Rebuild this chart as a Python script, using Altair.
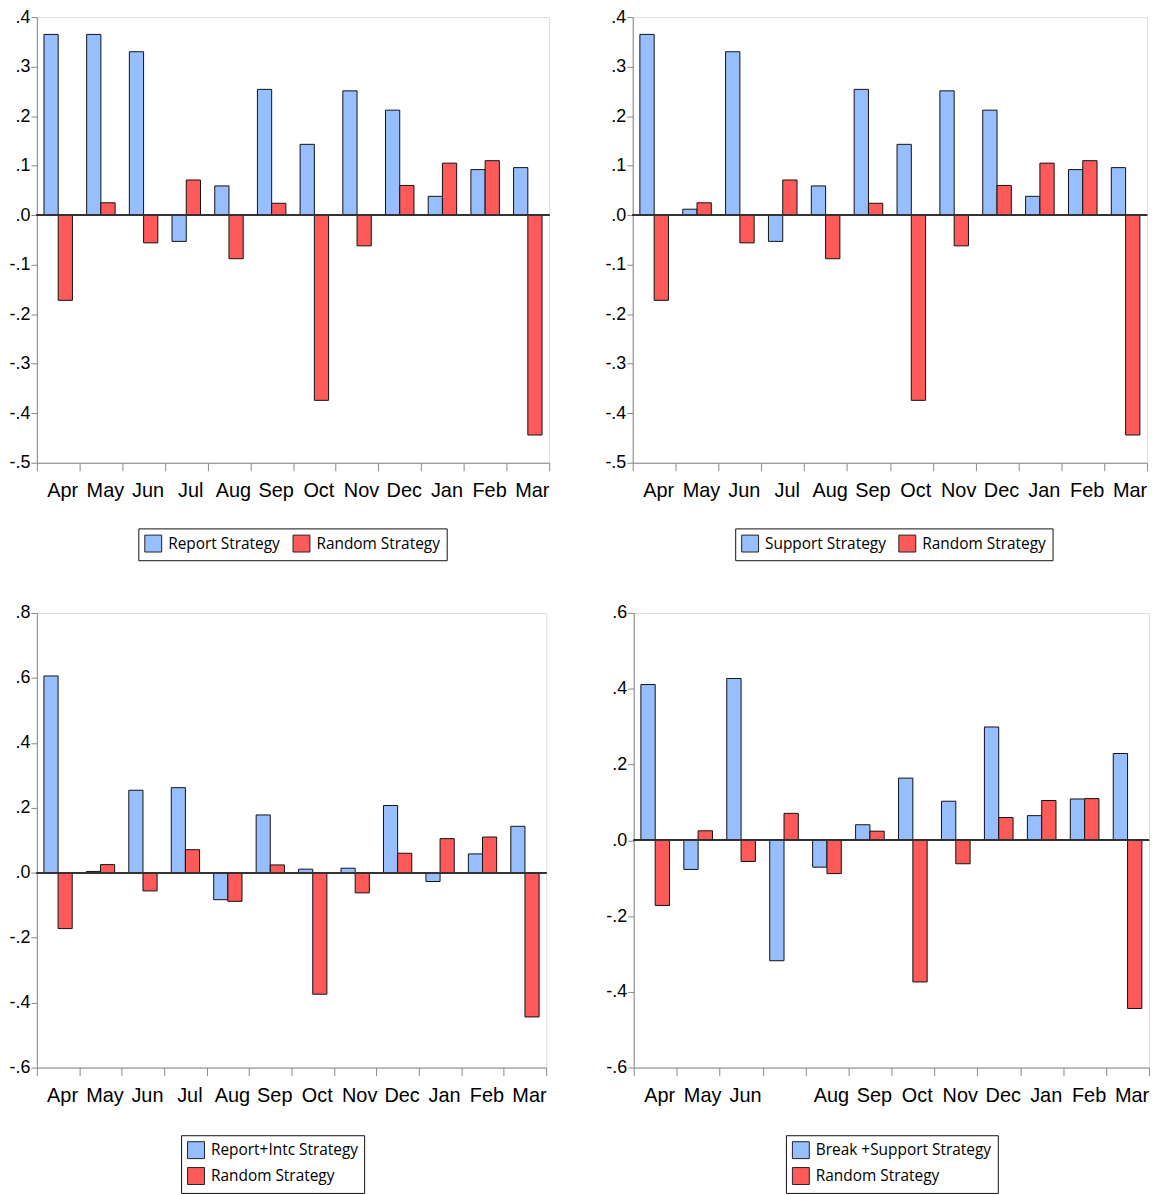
import altair as alt
import pandas as pd

months = ["Apr", "May", "Jun", "Jul", "Aug", "Sep", "Oct", "Nov", "Dec", "Jan", "Feb", "Mar"]

random_strategy = [-0.172, 0.025, -0.056, 0.071, -0.088, 0.024, -0.374, -0.062, 0.060, 0.105, 0.110, -0.444]
report_strategy = [0.365, 0.365, 0.330, -0.053, 0.059, 0.254, 0.143, 0.251, 0.212, 0.038, 0.092, 0.096]
support_strategy = [0.365, 0.012, 0.330, -0.053, 0.059, 0.254, 0.143, 0.251, 0.212, 0.038, 0.092, 0.096]
report_intc_strategy = [0.606, 0.004, 0.254, 0.262, -0.083, 0.178, 0.011, 0.014, 0.207, -0.027, 0.058, 0.143]
break_support_strategy = [0.411, -0.077, 0.427, -0.318, -0.071, 0.041, 0.164, 0.103, 0.299, 0.065, 0.109, 0.229]

names = {
    "report": "Report Strategy",
    "support": "Support Strategy",
    "intc": "Report+Intc Strategy",
    "break": "Break +Support Strategy",
    "random": "Random Strategy",
}

ticks_top = [-0.5, -0.4, -0.3, -0.2, -0.1, 0.0, 0.1, 0.2, 0.3, 0.4]
ticks_bl = [-0.6, -0.4, -0.2, 0.0, 0.2, 0.4, 0.6, 0.8]
ticks_br = [-0.6, -0.4, -0.2, 0.0, 0.2, 0.4, 0.6]

BLUE = "#97bfff"
RED = "#ff5a5a"


def panel(blue_name, blue_vals, w, h, domain, ticks, lx, ly, direction, hide_jul=False):
    rows = []
    for m, b, r in zip(months, blue_vals, random_strategy):
        rows.append({"month": m, "series": blue_name, "value": b})
        rows.append({"month": m, "series": names["random"], "value": r})
    df = pd.DataFrame(rows)
    order = [blue_name, names["random"]]
    label_expr = "datum.label == 'Jul' ? '' : datum.label" if hide_jul else "datum.label"
    half = w / 12 / 6  # half a bar width: bars take a third of each month band

    x_enc = alt.X(
        "month:N",
        sort=months,
        scale=alt.Scale(paddingInner=0, paddingOuter=0),
        axis=alt.Axis(
            title=None,
            labelAngle=0,
            tickBand="extent",
            tickSize=8,
            labelFontSize=20,
            labelPadding=10,
            labelOffset=4,
            labelExpr=label_expr,
            labelOverlap=False,
        ),
    )
    y_enc = alt.Y(
        "value:Q",
        scale=alt.Scale(domain=domain, nice=False, zero=True),
        axis=alt.Axis(
            title=None,
            values=ticks,
            grid=False,
            tickSize=6,
            labelPadding=1,
            labelFontSize=18,
            labelExpr="replace(replace(format(datum.value, '.1f'), '0.', '.'), '\u2212', '-')",
            minExtent=28,
            maxExtent=28,
        ),
    )
    c_enc = alt.Color(
        "series:N",
        sort=order,
        scale=alt.Scale(domain=order, range=[BLUE, RED]),
        legend=alt.Legend(
            title=None,
            orient="none",
            legendX=lx,
            legendY=ly,
            direction=direction,
            strokeColor="#111111",
            padding=6,
            symbolType="square",
            symbolSize=289,
            symbolStrokeColor="#222222",
            symbolStrokeWidth=1,
            symbolOpacity=1,
            labelFont="Open Sans",
            labelFontSize=15.5,
            labelOffset=6,
            labelLimit=400,
            columnPadding=10,
            rowPadding=4,
            columns=1 if direction == "vertical" else 2,
        ),
    )
    base = alt.Chart(df)
    layers = []
    for i, s in enumerate(order):
        layers.append(
            base.transform_filter(alt.datum.series == s)
            .mark_bar(
                stroke="#111111",
                strokeWidth=1,
                opacity=1,
                width=alt.RelativeBandSize(1 / 3),
                xOffset=-half if i == 0 else half,
            )
            .encode(x=x_enc, y=y_enc, color=c_enc)
        )
    zero = base.mark_rule(color="#333333", strokeWidth=1).encode(y=alt.datum(0))
    return alt.layer(*layers, zero).properties(width=w, height=h)


p1 = panel(names["report"], report_strategy, 515, 448, [-0.5, 0.4], ticks_top, 102, 514, "horizontal")
p2 = panel(names["support"], support_strategy, 517, 448, [-0.5, 0.4], ticks_top, 103, 514, "horizontal")
p3 = panel(names["intc"], report_intc_strategy, 512, 457, [-0.6, 0.8], ticks_bl, 145, 525, "vertical")
p4 = panel(names["break"], break_support_strategy, 518, 457, [-0.6, 0.6], ticks_br, 153, 525, "vertical", hide_jul=True)

row1 = alt.hconcat(p1, p2, spacing=84, bounds="flush").resolve_scale(color="independent", x="independent", y="independent")
row2 = alt.hconcat(p3, p4, spacing=88, bounds="flush").resolve_scale(color="independent", x="independent", y="independent")

chart = (
    alt.vconcat(row1, row2, spacing=42)
    .resolve_scale(color="independent", x="independent", y="independent")
    .properties(padding={"left": 0, "top": -4, "right": 5, "bottom": 5})
    .configure_view(stroke="#777777", strokeWidth=1)
    .configure_axis(
        domainColor="#555555",
        tickColor="#333333",
        labelColor="#000000",
        labelFont="Liberation Sans",
    )
    .configure(background="white")
)

chart.save("out.html", embed_options={"renderer": "svg", "actions": False})
